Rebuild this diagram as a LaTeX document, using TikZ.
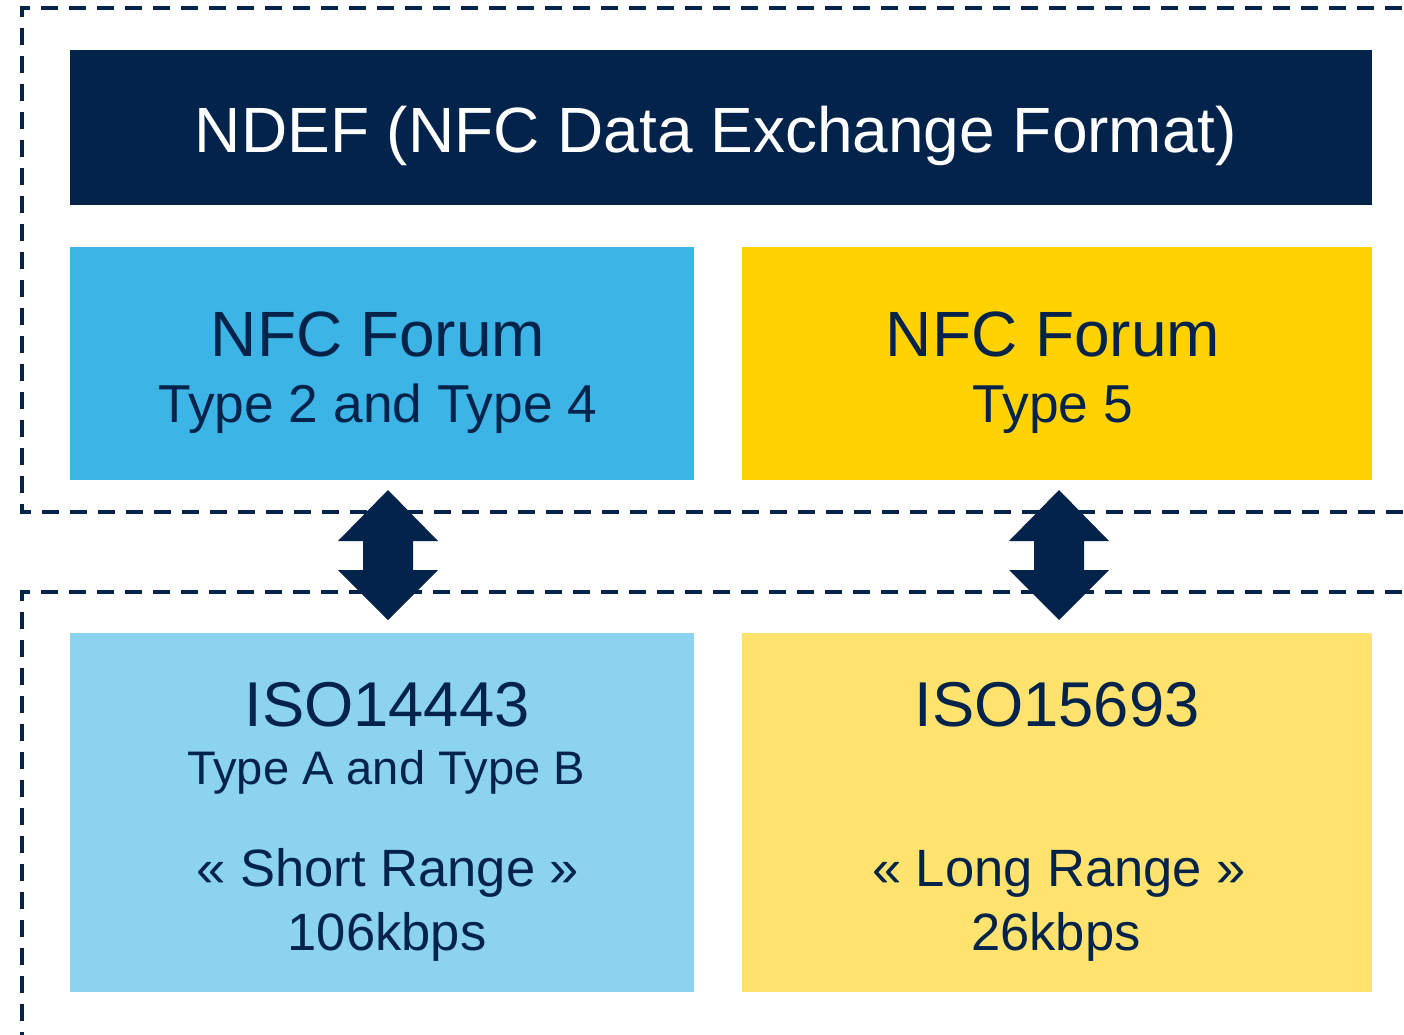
\documentclass[tikz,border=0pt]{standalone}
\usepackage{fontspec}
\setmainfont{Liberation Sans}
\usepackage{xcolor}
\usetikzlibrary{positioning}
\definecolor{stnavy}{HTML}{03234B}
\definecolor{stblue}{HTML}{3CB4E6}
\definecolor{stlightblue}{HTML}{8CD3F0}
\definecolor{styellow}{HTML}{FFD200}
\definecolor{stlightyellow}{HTML}{FFE36E}

\begin{document}
\begin{tikzpicture}[x=0.75pt, y=-0.75pt,
  box/.style 2 args={anchor=north west, inner sep=0, outer sep=0, minimum width=#1*0.75pt, minimum height=#2*0.75pt},
  txt/.style={anchor=base, inner sep=0, text=stnavy},
  frame/.style={draw=stnavy, line width=3pt, dash pattern=on 12.5pt off 8.5pt}]
\useasboundingbox (0,0) rectangle (1404,1035);
\clip (0,0) rectangle (1404,1035);

% dashed frames
\draw[frame] (1430,8) -| (22,512) -- (1430,512);
\draw[frame] (1430,592) -| (22,1060);

% boxes
\node[box={1302}{155}, fill=stnavy] (ndef) at (70,50) {};
\node[box={624}{233}, fill=stblue] (t24) at (70,247) {};
\node[box={630}{233}, fill=styellow] (t5) at (742,247) {};
\node[box={624}{359}, fill=stlightblue] (iso14) at (70,633) {};
\node[box={630}{359}, fill=stlightyellow] (iso15) at (742,633) {};

% texts
\node[txt, text=white, font=\fontsize{48}{50}\selectfont] (ndeftxt) at (716,152) {NDEF (NFC Data Exchange Format)};
\node[txt, font=\fontsize{48}{50}\selectfont] (t24a) at (378,356) {NFC Forum};
\node[txt, font=\fontsize{40}{42}\selectfont] (t24b) at (378,422) {Type 2 and Type 4};
\node[txt, font=\fontsize{48}{50}\selectfont] (t5a) at (1053,356) {NFC Forum};
\node[txt, font=\fontsize{40}{42}\selectfont] (t5b) at (1053,422) {Type 5};
\node[txt, font=\fontsize{47.5}{50}\selectfont] (iso14a) at (387,726) {ISO14443};
\node[txt, font=\fontsize{35.3}{37}\selectfont] (iso14b) at (386,784) {Type A and Type B};
\node[txt, font=\fontsize{39.4}{41}\selectfont] (iso14c) at (388,886) {« Short Range »};
\node[txt, font=\fontsize{39.4}{41}\selectfont] (iso14d) at (387,950) {106kbps};
\node[txt, font=\fontsize{47.5}{50}\selectfont] (iso15a) at (1057,726) {ISO15693};
\node[txt, font=\fontsize{39.4}{41}\selectfont] (iso15c) at (1059,886) {« Long Range »};
\node[txt, font=\fontsize{39.4}{41}\selectfont] (iso15d) at (1056,950) {26kbps};

% double arrows between layers
\foreach \c in {388,1059}
  \fill[stnavy] (\c,490) -- ++(50,51) -- ++(-25,0) -- ++(0,29) -- ++(25,0)
    -- (\c,620) -- ++(-50,-50) -- ++(25,0) -- ++(0,-29) -- ++(-25,0) -- cycle;
\end{tikzpicture}
\end{document}
